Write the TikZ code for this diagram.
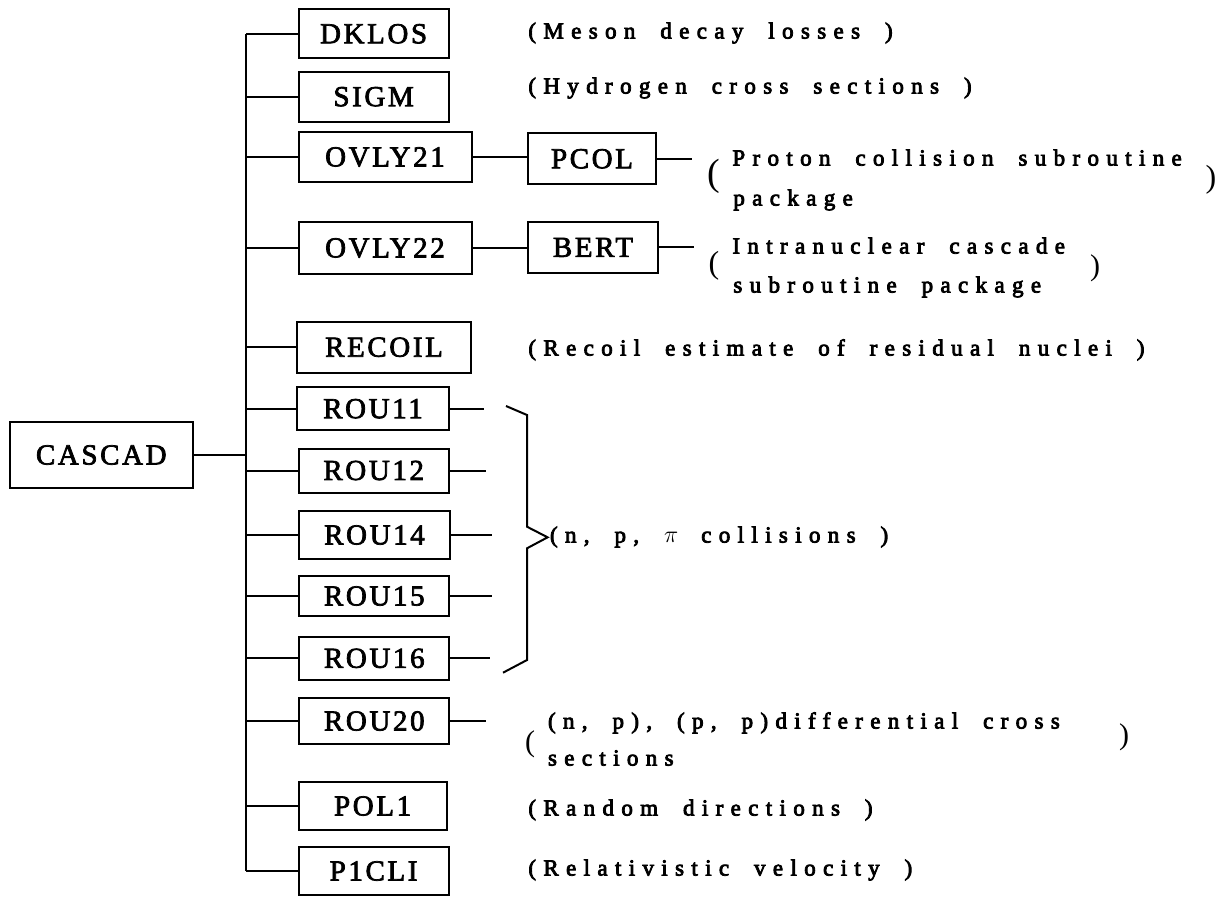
\documentclass[tikz,border=0pt]{standalone}
\usepackage{fontspec}
\setmainfont{Liberation Serif}
\newfontfamily\boxfamily[LetterSpace=9,FakeBold=2.5]{Liberation Serif}
\newfontfamily\notefamily[LetterSpace=32,WordSpace=1.9,FakeBold=3.5]{Liberation Serif}
\newcommand\boxfont{\boxfamily\fontsize{14.5}{16}\selectfont}
\newcommand\notefont{\notefamily\fontsize{11.5}{14}\selectfont}

\tikzset{
  wire/.style={line width=1pt},
  prog/.style={draw, line width=1pt, inner sep=0pt, font=\boxfont},
  note/.style={anchor=west, inner sep=0pt, font=\notefont, text height=8pt, text depth=2.5pt},
  bigparen/.style={inner sep=0pt, font=\fontsize{#1}{#1}\selectfont},
}

\begin{document}
\begin{tikzpicture}[x=0.5pt, y=-0.5pt]
\useasboundingbox (0,0) rectangle (1227,896);

% main program
\node[prog, minimum width=91.5pt, minimum height=33.3pt] (cascad) at (101.3,455) {CASCAD};

% called subroutines
\node[prog, minimum width=75pt,   minimum height=24.5pt] (dklos)  at (373.6,33.8)  {DKLOS};
\node[prog, minimum width=75pt,   minimum height=25pt]   (sigm)   at (373.6,96.7)  {SIGM};
\node[prog, minimum width=86.5pt, minimum height=25.3pt] (ovly21) at (385,157)     {OVLY21};
\node[prog, minimum width=64pt,   minimum height=25.5pt] (pcol)   at (592,158.8)   {PCOL};
\node[prog, minimum width=86.5pt, minimum height=26pt]   (ovly22) at (385,248)     {OVLY22};
\node[prog, minimum width=65pt,   minimum height=25.6pt] (bert)   at (593,247.4)   {BERT};
\node[prog, minimum width=87pt,   minimum height=25.5pt] (recoil) at (384,347.2)   {RECOIL};
\node[prog, minimum width=76pt,   minimum height=21.5pt] (rou11)  at (373,408.7)   {ROU11};
\node[prog, minimum width=75pt,   minimum height=22pt]   (rou12)  at (373.7,470.5) {ROU12};
\node[prog, minimum width=75.5pt, minimum height=24pt]   (rou14)  at (374.5,535)   {ROU14};
\node[prog, minimum width=75pt,   minimum height=20pt]   (rou15)  at (374.3,596)   {ROU15};
\node[prog, minimum width=75pt,   minimum height=21.5pt] (rou16)  at (374.3,658.3) {ROU16};
\node[prog, minimum width=75pt,   minimum height=23pt]   (rou20)  at (374.3,721)   {ROU20};
\node[prog, minimum width=74pt,   minimum height=24pt]   (pol1)   at (372.6,806)   {POL1};
\node[prog, minimum width=75pt,   minimum height=24pt]   (picli)  at (373.6,871)   {P1CLI};

% bus line and branches
\coordinate (trunk) at (246,0);
\draw[wire] (trunk |- dklos.west) -- (trunk |- picli.west);
\draw[wire] (cascad.east) -- (trunk |- cascad.east);
\foreach \n in {dklos,sigm,ovly21,ovly22,recoil,rou11,rou12,rou14,rou15,rou16,rou20,pol1,picli}
  \draw[wire] (trunk |- \n.west) -- (\n.west);
\draw[wire] (ovly21.east) -- (ovly21.east -| pcol.west);
\draw[wire] (ovly22.east) -- (ovly22.east -| bert.west);

% short leaders to the notes
\coordinate (pcolT)  at (692,0);
\coordinate (bertT)  at (694,0);
\coordinate (rou11T) at (484,0);
\coordinate (rou12T) at (486,0);
\coordinate (rou14T) at (492,0);
\coordinate (rou15T) at (491.5,0);
\coordinate (rou16T) at (490,0);
\coordinate (rou20T) at (486,0);
\draw[wire] (pcol.east) -- (pcol.east -| pcolT);
\draw[wire] (bert.east) -- (bert.east -| bertT);
\foreach \n in {rou11,rou12,rou14,rou15,rou16,rou20}
  \draw[wire] (\n.east) -- (\n.east -| \n T);

% brace grouping the collision routines
\draw[wire, line join=miter] (506,406) -- (527,415) -- (527,526.7) -- (547.6,537.3)
  -- (527,548.3) -- (527,660) -- (503,672.7);

% notes
\node[note] (n1) at (528,33) {(Meson decay losses )};
\node[note] (n2) at (528,88) {(Hydrogen cross sections )};
\node[bigparen=19] (n3l) at (714,176.5) {(};
\node[note] (n3a) at (732,160) {Proton collision subroutine};
\node[note] (n3b) at (733,200) {package};
\node[bigparen=16] (n3r) at (1211,180) {)};
\node[bigparen=16] (n4l) at (714,266) {(};
\node[note] (n4a) at (732,248) {Intranuclear cascade};
\node[note] (n4b) at (733,287) {subroutine package};
\node[bigparen=15] (n4r) at (1095,268) {)};
\node[note] (n5) at (528,350) {(Recoil estimate of residual nuclei )};
\node[note] (n6) at (549.6,537) {(n, p, $\pi$\quad collisions )};
\node[bigparen=15] (n7l) at (530,744) {(};
\node[note] (n7a) at (547.6,723) {(n, p), (p, p)differential cross};
\node[note] (n7b) at (547.6,760) {sections};
\node[bigparen=15] (n7r) at (1124,737) {)};
\node[note] (n8) at (528,810) {(Random directions )};
\node[note] (n9) at (528,870) {(Relativistic velocity )};
\end{tikzpicture}
\end{document}
